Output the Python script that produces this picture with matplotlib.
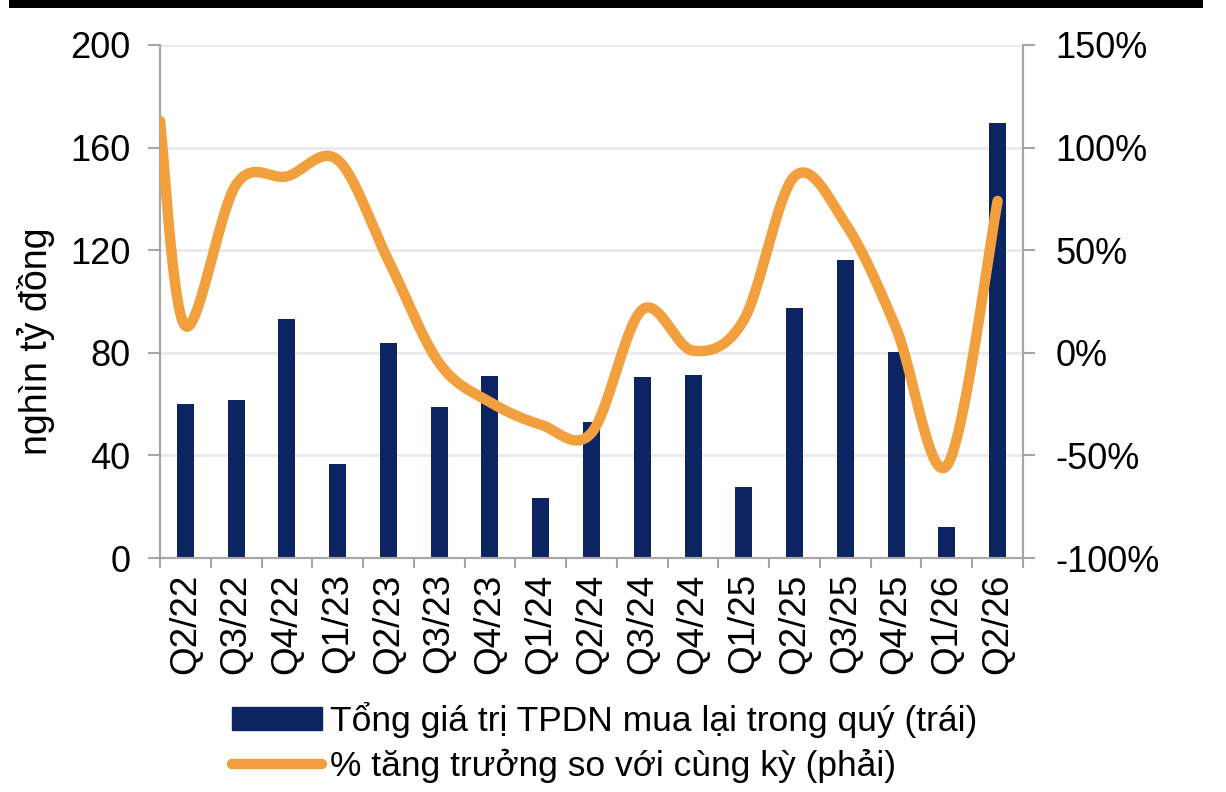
import numpy as np
import matplotlib
matplotlib.use("Agg")
import matplotlib.pyplot as plt
from matplotlib.lines import Line2D
from matplotlib.patches import Rectangle

plt.rcParams['font.family'] = ['Liberation Sans', 'DejaVu Sans']

# dữ liệu
quarters = ["Q2/22", "Q3/22", "Q4/22", "Q1/23", "Q2/23", "Q3/23", "Q4/23", "Q1/24", "Q2/24",
            "Q3/24", "Q4/24", "Q1/25", "Q2/25", "Q3/25", "Q4/25", "Q1/26", "Q2/26"]
buyback = [60, 61.5, 93, 36.5, 84, 59, 71, 23.5, 53, 70.5, 71.5, 27.5, 97.5, 116, 80.5, 12, 169.5]
growth = [13, 82, 86, 94, 45, -5, -24, -35, -39, 21, 1, 16, 86, 63, 12, -55, 74]
growth_edge = 113  # giá trị tại mép trái trục (đường bắt đầu từ trục)

navy = "#0c2461"
orange = "#f2a03d"
axis_grey = "#a6a6a6"
grid_grey = "#e9e9ee"


def smooth(x, y, n=40):
    # đường cong Bezier kiểu Excel (Catmull-Rom)
    pts = np.column_stack([x, y]).astype(float)
    out = []
    for i in range(len(pts) - 1):
        p0 = pts[max(i - 1, 0)]
        p1 = pts[i]
        p2 = pts[i + 1]
        p3 = pts[min(i + 2, len(pts) - 1)]
        c1 = p1 + (p2 - p0) / 6
        c2 = p2 - (p3 - p1) / 6
        t = np.linspace(0, 1, n)[:, None]
        seg = (1 - t) ** 3 * p1 + 3 * (1 - t) ** 2 * t * c1 + 3 * (1 - t) * t ** 2 * c2 + t ** 3 * p2
        out.append(seg if i == 0 else seg[1:])
    return np.vstack(out)


fig = plt.figure(figsize=(12.26, 7.92), dpi=100)
ax = fig.add_axes([160 / 1226, 1 - 558 / 792, 863 / 1226, 513 / 792])
ax2 = ax.twinx()

x = np.arange(len(quarters))
ax.bar(x, buyback, width=0.335, color=navy, zorder=2)

lx = np.concatenate([[-0.5], x])
ly = np.concatenate([[growth_edge], growth])
curve = smooth(lx, ly)
ax2.plot(curve[:, 0], curve[:, 1], color=orange, lw=7.5, solid_capstyle='round', zorder=3)

ax.set_xlim(-0.5, len(quarters) - 0.5)
ax.set_ylim(0, 200)
ax.set_yticks(np.arange(0, 201, 40))
ax2.set_ylim(-100, 150)
ax2.set_yticks(np.arange(-100, 151, 50))
ax2.set_yticklabels([f"{v}%" for v in range(-100, 151, 50)])

ax.set_xticks(x)
ax.set_xticklabels(quarters, rotation=90)
ax.set_xticks(np.arange(-0.5, len(quarters)), minor=True)
ax.tick_params(axis='x', which='major', length=0, pad=11, labelsize=26.5)
ax.tick_params(axis='x', which='minor', length=7, width=1.5, color=axis_grey, direction='out')
ax.tick_params(axis='y', length=8.5, width=1.5, color=axis_grey, labelsize=26, pad=13)
ax2.tick_params(axis='y', length=8.5, width=1.5, color=axis_grey, labelsize=26, pad=15)

ax.yaxis.grid(True, color=grid_grey, lw=2)
ax.set_axisbelow(True)
ax.set_zorder(ax2.get_zorder() - 1)
ax.patch.set_visible(False)

for a in (ax, ax2):
    a.spines['top'].set_visible(False)
    for s in ('left', 'right', 'bottom'):
        a.spines[s].set_color(axis_grey)
        a.spines[s].set_linewidth(1.5)

fig.text(36 / 1226, 1 - 341 / 792, "nghìn tỷ đồng", fontsize=27, rotation=90,
         ha='center', va='center')

# thanh đen phía trên
fig.add_artist(Rectangle((9 / 1226, 1 - 8 / 792), 1194 / 1226, 8 / 792, transform=fig.transFigure,
                         color="black", lw=0))

handles = [Rectangle((0, 0), 1, 1, color=navy),
           Line2D([], [], color=orange, lw=7.5, solid_capstyle='round')]
labels = ["Tổng giá trị TPDN mua lại trong quý (trái)", "% tăng trưởng so với cùng kỳ (phải)"]
fig.legend(handles, labels, loc='upper left', bbox_to_anchor=(218 / 1226, 1 - 688 / 792),
           frameon=False, fontsize=25.5, handlelength=2.55, handleheight=0.6,
           handletextpad=0.2, labelspacing=0.3, borderaxespad=0)

fig.savefig("out.png", dpi=100)
